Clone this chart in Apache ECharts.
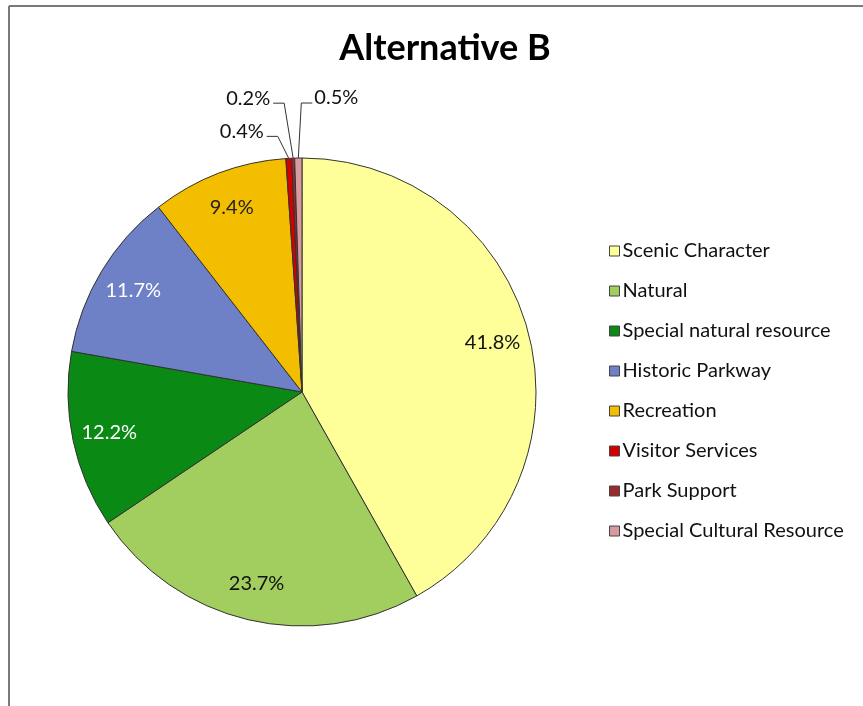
<!DOCTYPE html>
<html>
<head>
<meta charset="utf-8">
<script src="https://cdn.jsdelivr.net/npm/echarts@6/dist/echarts.min.js"></script>
<style>
  html, body { margin: 0; padding: 0; background: #ffffff; }
  #chart { width: 863px; height: 706px; }
</style>
</head>
<body>
<div id="chart"></div>
<script>
// Land-use zoning shares, Alternative B (percent of area)
const categories = [
  'Scenic Character',
  'Natural',
  'Special natural resource',
  'Historic Parkway',
  'Recreation',
  'Visitor Services',
  'Park Support',
  'Special Cultural Resource'
];
const shares = [41.8, 23.7, 12.2, 11.7, 9.4, 0.4, 0.2, 0.5];
const sliceColors = ['#FFFF99', '#A2CD5F', '#0A8A14', '#6E80C6', '#F4BE00', '#D40000', '#9B2A2A', '#D89AA0'];
const labelColors = ['#111', '#111', '#ffffff', '#ffffff', '#222', '#111', '#111', '#111'];

const FONT = 'Lato, "Open Sans", sans-serif';
const CX = 302, CY = 392, R = 234;
const SMALL = 1; // slices below this share get leader-line labels outside

const pieData = categories.map((name, i) => ({
  name,
  value: shares[i],
  itemStyle: { color: sliceColors[i] }
}));

// Outside leader lines for the thin slices: rise from the rim, then a short
// horizontal tail toward the label (left for most, right for the last one).
const leaderShape = {
  'Visitor Services': { rise: [-11, -22], tail: -11 },
  'Park Support': { rise: [-9, -55], tail: -11 },
  'Special Cultural Resource': { rise: [3, -55], tail: 11 }
};

const chart = echarts.init(document.getElementById('chart'), null, { renderer: 'canvas' });

chart.setOption({
  backgroundColor: '#ffffff',
  animation: false,
  title: {
    text: 'Alternative B',
    left: 440,
    top: 25,
    textAlign: 'center',
    textStyle: { fontFamily: FONT, fontWeight: 'bold', fontSize: 36, color: '#000' }
  },
  legend: {
    orient: 'vertical',
    left: 609,
    top: 241,
    padding: 0,
    itemWidth: 10,
    itemHeight: 10,
    itemGap: 20,
    icon: 'rect',
    data: categories,
    itemStyle: { borderColor: '#444', borderWidth: 1 },
    textStyle: { fontFamily: FONT, fontSize: 20, color: '#111', lineHeight: 20, padding: [0, 0, 0, -2] },
    selectedMode: false
  },
  graphic: [
    // sheet frame lines along the top and left edges
    { type: 'line', shape: { x1: 9, y1: 6, x2: 863, y2: 6 }, style: { stroke: '#7a7a7a', lineWidth: 2 }, silent: true },
    { type: 'line', shape: { x1: 9, y1: 6, x2: 9, y2: 706 }, style: { stroke: '#7a7a7a', lineWidth: 2 }, silent: true }
  ],
  series: [
    {
      // slices, with leader-line labels for the thin ones
      type: 'pie',
      center: [CX, CY],
      radius: [0, R],
      startAngle: 90,
      clockwise: true,
      avoidLabelOverlap: false,
      itemStyle: { borderColor: '#333', borderWidth: 1 },
      emphasis: { disabled: true },
      data: pieData.map((d, i) => ({
        ...d,
        label: shares[i] < SMALL
          ? { show: true, position: 'outside', formatter: '{c}%', color: '#111', fontFamily: FONT, fontSize: 20 }
          : { show: false },
        labelLine: shares[i] < SMALL
          ? { show: true, length: 20, length2: 10, lineStyle: { color: '#333', width: 1 } }
          : { show: false }
      })),
      labelLayout: function (params) {
        const name = categories[params.dataIndex];
        const shape = leaderShape[name];
        if (!shape || !params.labelLinePoints) return {};
        const p0 = params.labelLinePoints[0];
        const p1 = [p0[0] + shape.rise[0], p0[1] + shape.rise[1]];
        const p2 = [p1[0] + shape.tail, p1[1]];
        const right = shape.tail > 0;
        return {
          x: p2[0] + (right ? 2 : -3),
          y: p2[1] - 5,
          align: right ? 'left' : 'right',
          verticalAlign: 'middle',
          labelLinePoints: [p0, p1, p2]
        };
      }
    },
    {
      // percentage labels inside the larger slices, set at ~83% of the radius
      type: 'pie',
      center: [CX, CY],
      radius: [Math.round(R * 0.66), R],
      startAngle: 90,
      clockwise: true,
      silent: true,
      emphasis: { disabled: true },
      itemStyle: { color: 'rgba(0,0,0,0)', borderWidth: 0 },
      labelLine: { show: false },
      data: pieData.map((d, i) => ({
        name: d.name,
        value: d.value,
        itemStyle: { color: 'rgba(0,0,0,0)' },
        label: shares[i] >= SMALL
          ? { show: true, position: 'inside', formatter: '{c}%', color: labelColors[i], fontFamily: FONT, fontSize: 20 }
          : { show: false }
      }))
    }
  ]
});
</script>
</body>
</html>
